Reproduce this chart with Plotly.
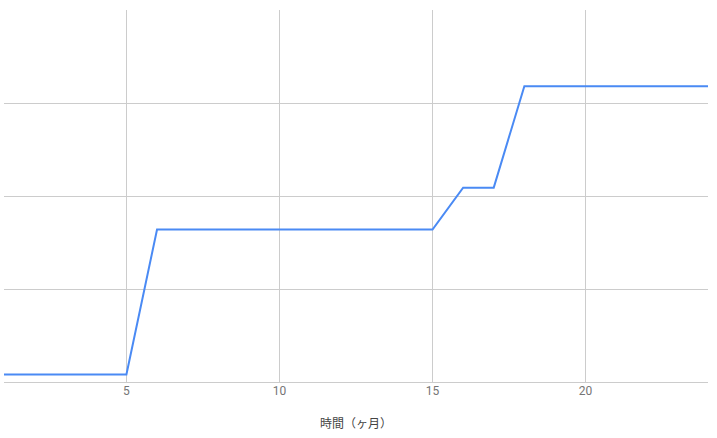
import plotly.graph_objects as go

# months and the value reached each month
months = list(range(1, 25))
values = [0.8, 0.8, 0.8, 0.8, 0.8,
          16.4, 16.4, 16.4, 16.4, 16.4, 16.4, 16.4, 16.4, 16.4, 16.4,
          20.9, 20.9,
          31.8, 31.8, 31.8, 31.8, 31.8, 31.8, 31.8]
x_ticks = [5, 10, 15, 20]

fig = go.Figure()
fig.add_trace(
    go.Scatter(
        x=months,
        y=values,
        mode="lines",
        line=dict(color="#4a8af4", width=2),
        hoverinfo="x+y",
    )
)

fig.update_layout(
    width=717,
    height=438,
    margin=dict(l=4, r=9, t=10, b=56),
    paper_bgcolor="white",
    plot_bgcolor="white",
    showlegend=False,
    font=dict(family="Roboto, Noto Sans CJK JP", size=12, color="#757575"),
    xaxis=dict(
        range=[1, 24],
        tickvals=x_ticks,
        showgrid=True,
        gridcolor="#cccccc",
        gridwidth=1,
        zeroline=False,
        showline=True,
        linecolor="#cccccc",
        ticks="",
        ticklabelstandoff=-2,
        tickfont=dict(size=12, color="#757575"),
        title=dict(
            text="時間（ヶ月）",
            font=dict(family="Noto Sans CJK JP", size=12, color="#444444"),
            standoff=22,
        ),
    ),
    yaxis=dict(
        range=[0, 40],
        dtick=10,
        showgrid=True,
        gridcolor="#cccccc",
        gridwidth=1,
        zeroline=False,
        showticklabels=False,
        ticks="",
    ),
)

# drop the default page margin so the chart sits at the window corner
fig.write_html(
    "out.html",
    config={"displayModeBar": False},
    post_script="document.body.style.margin='0';",
)
